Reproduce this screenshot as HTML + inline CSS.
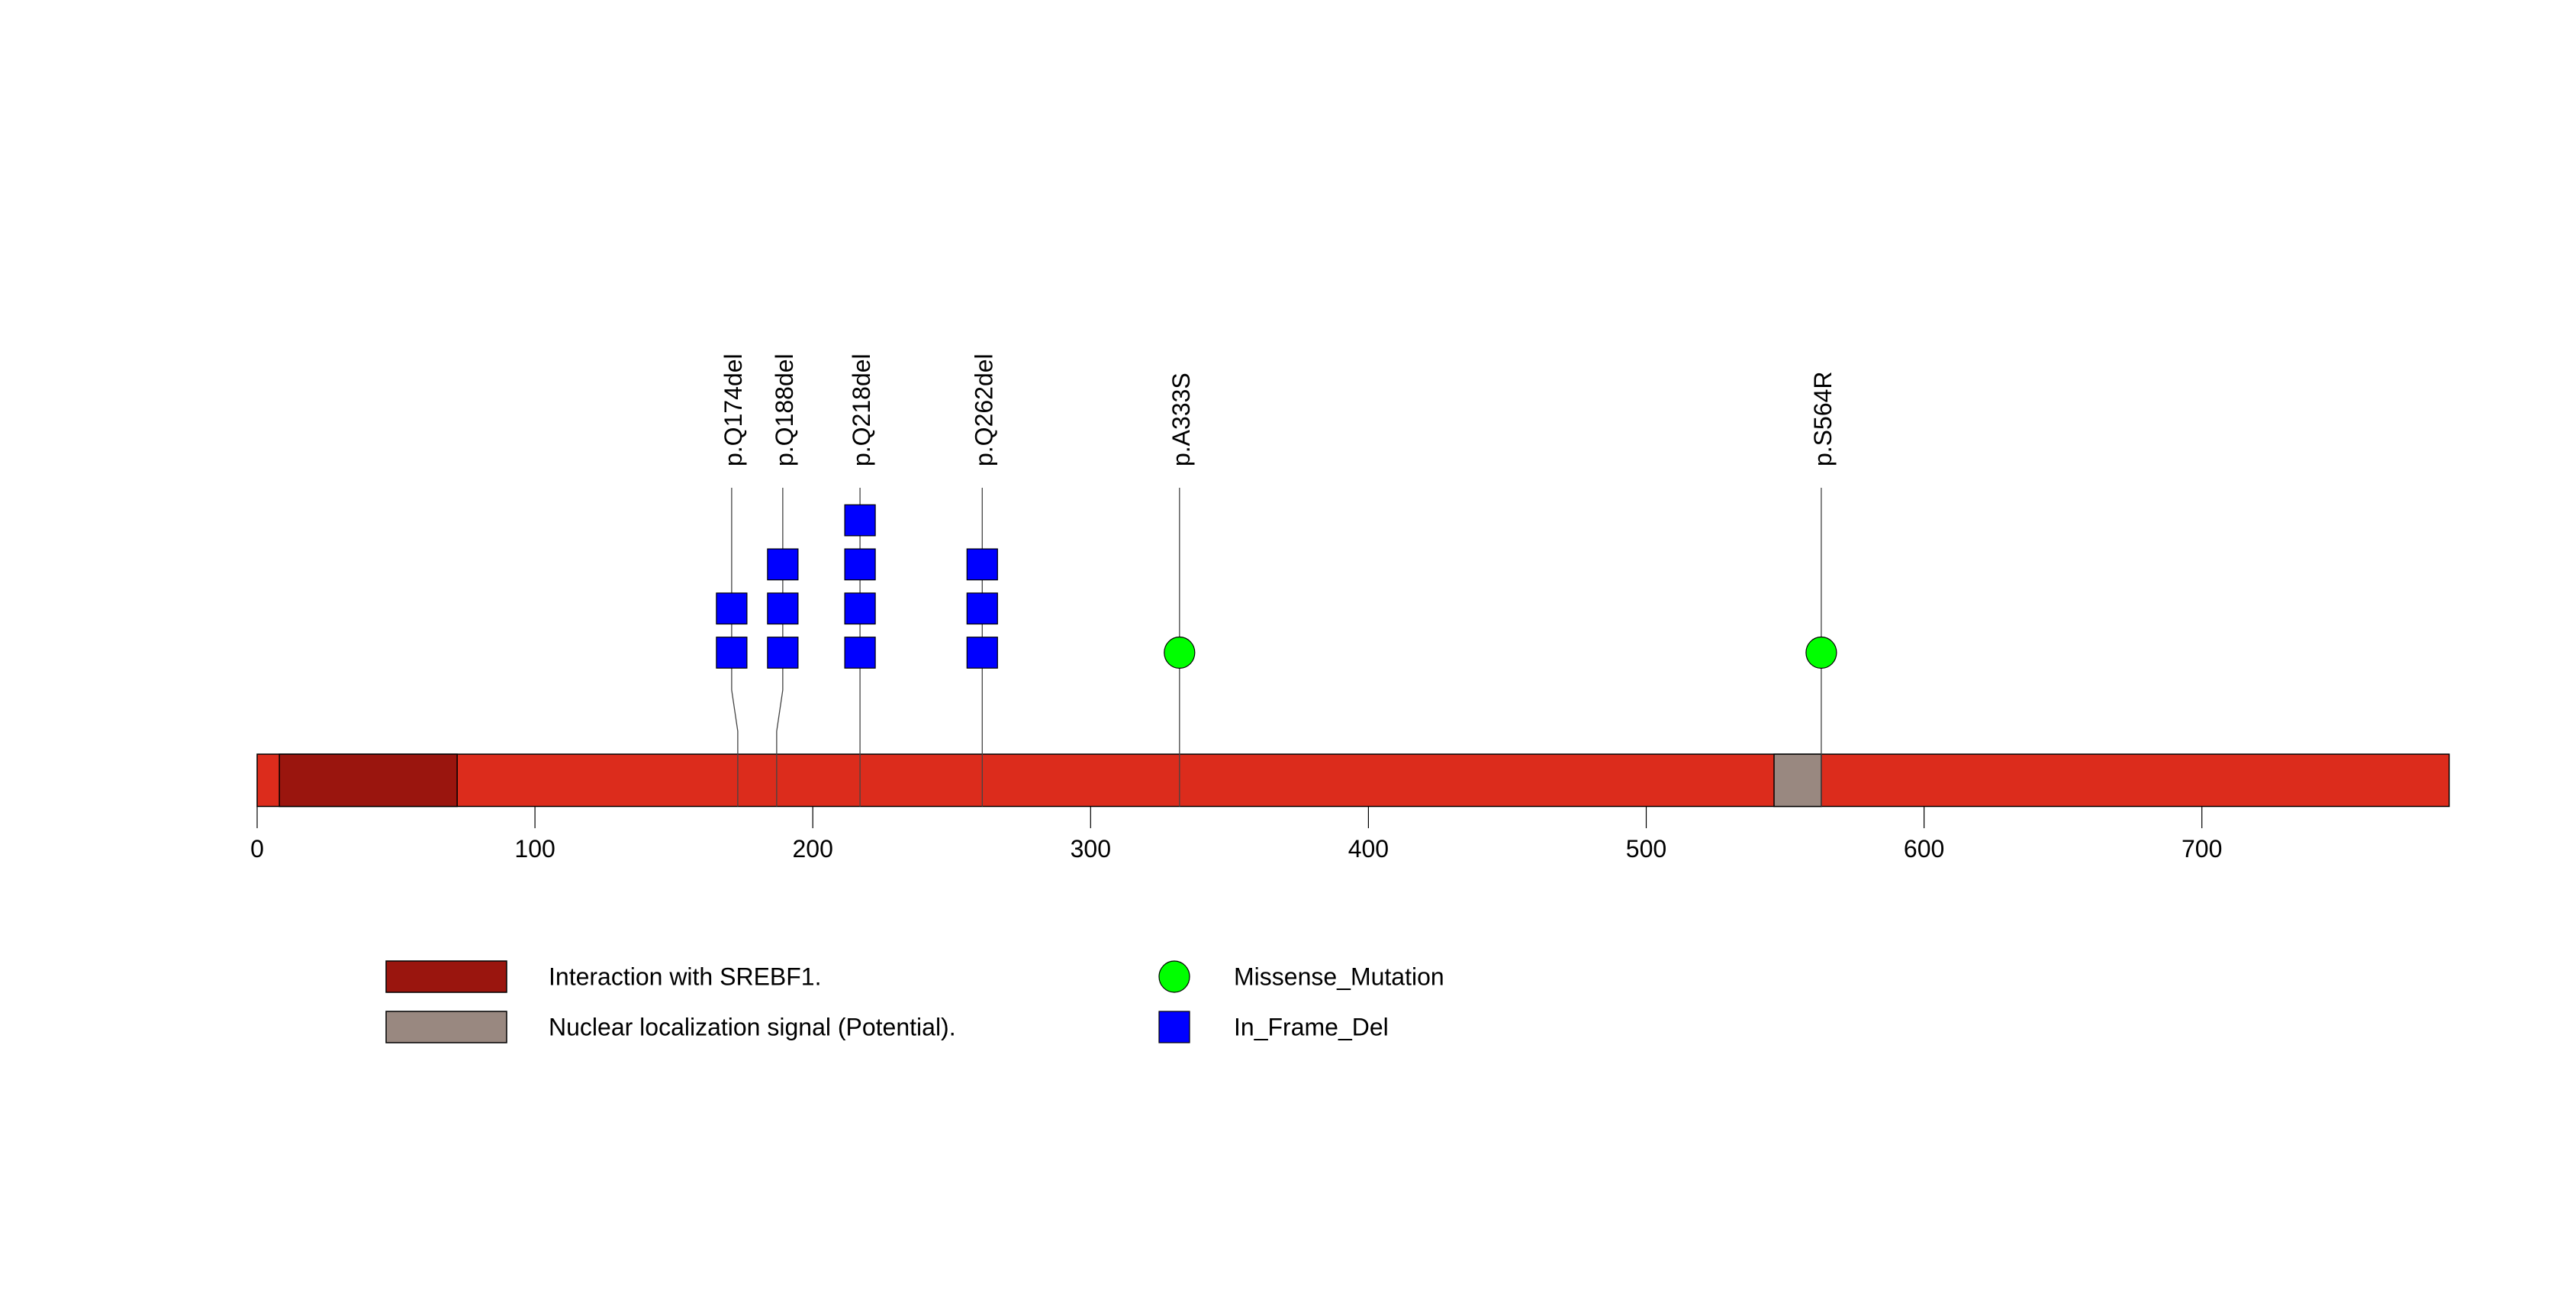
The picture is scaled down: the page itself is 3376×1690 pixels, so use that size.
<!DOCTYPE html>
<html><head><meta charset="utf-8"><style>
html,body{margin:0;padding:0;background:#fff;}
svg{display:block;font-family:"Liberation Sans",Arial,sans-serif;}
</style></head><body>
<svg id="chart" width="3376" height="1690" viewBox="0 0 3376 1690" xmlns="http://www.w3.org/2000/svg"></svg>
<script>
const proteinLength = 789;
const axisTicks = [0,100,200,300,400,500,600,700];
const domainNames = ["Interaction with SREBF1.","Nuclear localization signal (Potential)."];
const domainStarts = [8, 546];
const domainEnds = [72, 563];
const domainColors = ["#9a150e","#998880"];
const mutLabels = ["p.Q174del","p.Q188del","p.Q218del","p.Q262del","p.A333S","p.S564R"];
const mutPositions = [174,188,218,262,333,564];
const mutCounts = [2,3,4,3,1,1];
const mutTypes = ["del","del","del","del","mis","mis"];
const labelShift = [-8,8,0,0,0,0];

const NS="http://www.w3.org/2000/svg";
const svg=document.getElementById('chart');
const X0=337, SC=3.641;
const x=p=>X0+p*SC;
const barTop=988, barBot=1056.5;
function mk(tag,attrs,parent){const e=document.createElementNS(NS,tag);for(const k in attrs)e.setAttribute(k,attrs[k]);(parent||svg).appendChild(e);return e;}

const bb=mk('rect',{x:x(0),y:barTop,width:x(proteinLength)-x(0),height:barBot-barTop,fill:'#dc2c1c',stroke:'#000','stroke-width':1.5});


domainNames.forEach((n,i)=>{
  const r=mk('rect',{x:x(domainStarts[i]),y:barTop,width:x(domainEnds[i])-x(domainStarts[i]),height:barBot-barTop,fill:domainColors[i],stroke:'#000','stroke-width':1.5});
  
  
});
axisTicks.forEach(t=>{
  const l=mk('line',{x1:x(t),x2:x(t),y1:barBot,y2:1085,stroke:'#000','stroke-width':1.2});
  
  
  const tx=mk('text',{x:x(t),y:1123,'font-size':32,'text-anchor':'middle',fill:'#000'});
  tx.textContent=t;
  
  
});
const rowY=i=>855-i*57.8;
mutLabels.forEach((lab,i)=>{
  const px=x(mutPositions[i]-1), lx=px+labelShift[i];
  const pl=mk('polyline',{points:`${lx},639 ${lx},904 ${px},958 ${px},${barBot}`,fill:'none',stroke:'#444','stroke-width':1.3});
  
  
  const t=mk('text',{transform:`translate(${lx+13},611) rotate(-90)`,'font-size':32,fill:'#000'});
  t.textContent=lab;
  
  
  for(let k=0;k<mutCounts[i];k++){
    let m;
    if(mutTypes[i]==='del') m=mk('rect',{x:lx-20,y:rowY(k)-20.3,width:40,height:40.6,fill:'#0000ff',stroke:'#000','stroke-width':1.2});
    else m=mk('ellipse',{cx:lx,cy:rowY(k),rx:20,ry:20.5,fill:'#00ff00',stroke:'#000','stroke-width':1.2});
    
    
  }
});
const legY=[1279.5,1345.5];
domainNames.forEach((n,i)=>{
  const r=mk('rect',{x:506,y:legY[i]-20.5,width:158,height:41,fill:domainColors[i],stroke:'#000','stroke-width':1.5});
  
  
  const t=mk('text',{x:719,y:legY[i]+11,'font-size':32,fill:'#000'});
  t.textContent=n;
  
  
});
const c=mk('ellipse',{cx:1539,cy:legY[0],rx:20,ry:20.5,fill:'#00ff00',stroke:'#000','stroke-width':1.2});


const s=mk('rect',{x:1519,y:legY[1]-20.5,width:40,height:41,fill:'#0000ff',stroke:'#000','stroke-width':1.2});


const t1=mk('text',{x:1617,y:legY[0]+11,'font-size':32,fill:'#000'});t1.textContent='Missense_Mutation';


const t2=mk('text',{x:1617,y:legY[1]+11,'font-size':32,fill:'#000'});t2.textContent='In_Frame_Del';


</script>
</body></html>
